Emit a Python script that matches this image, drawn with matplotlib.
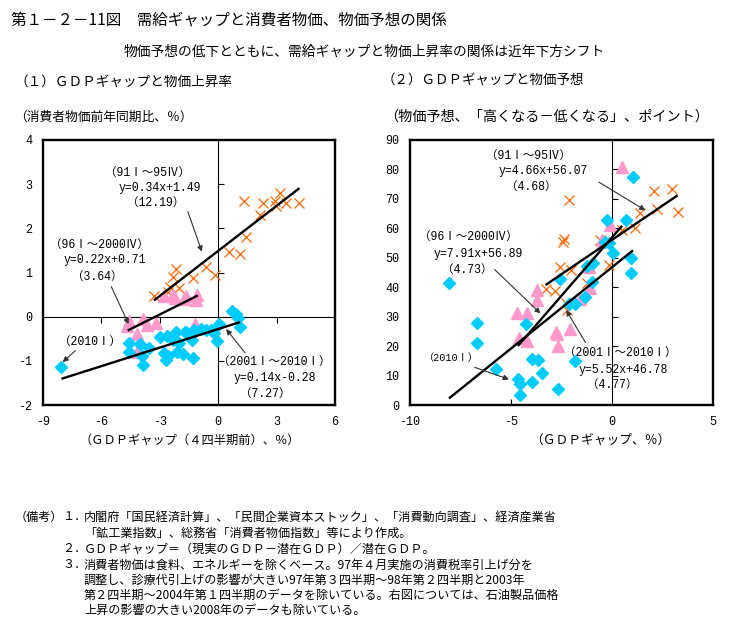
import matplotlib
matplotlib.use('Agg')
import matplotlib.pyplot as plt
import numpy as np

plt.rcParams['axes.unicode_minus'] = False
plt.rcParams['font.family'] = ['Noto Sans CJK JP', 'DejaVu Sans']

# ---------------- data: left panel (GDP gap 4Q earlier vs CPI) ----------------
l91_x = [-3.30, -2.48, -2.34, -2.18, -2.01, -2.60, -1.28, -0.65, -0.15, 0.57,
         1.12, 1.43, 1.34, 2.15, 2.28, 2.90, 2.95, 3.15, 3.48, 4.17]
l91_y = [0.46, 0.68, 0.89, 1.07, 0.64, 0.55, 0.87, 1.12, 0.94, 1.46,
         1.42, 1.81, 2.61, 2.30, 2.57, 2.61, 2.50, 2.81, 2.57, 2.57]

l96_x = [-4.70, -4.58, -3.85, -4.17, -3.67, -3.20, -2.77, -2.31, -2.22, -1.76,
         -1.65, -1.14, -1.10, -1.18, -4.19]
l96_y = [-0.20, -0.10, -0.05, -0.40, -0.19, -0.14, 0.47, 0.50, 0.43, 0.40,
         0.47, 0.38, 0.48, -0.16, -0.79]

l01_x = [-8.05, -4.56, -4.56, -4.03, -3.93, -3.84, -3.57, -3.01, -2.65, -2.56,
         -2.68, -2.78, -2.16, -2.10, -2.00, -1.83, -1.66, -1.36, -1.26, -1.27,
         -0.90, -0.36, -0.20, -0.04, 0.06, 0.70, 0.90, 1.02, 1.12, -1.71,
         -2.31, -0.63, -1.19]
l01_y = [-1.14, -0.60, -0.79, -0.61, -0.88, -1.09, -0.72, -0.47, -0.44, -0.88,
         -0.97, -0.83, -0.34, -0.79, -0.60, -0.85, -0.35, -0.53, -0.30, -0.94,
         -0.29, -0.30, -0.37, -0.54, -0.16, 0.12, 0.06, -0.02, -0.23, -0.34,
         -0.53, -0.30, -0.32]

# regression coefficients (slope, intercept) and x-range of each line
l_fits = [(0.34, 1.49, -3.30, 4.17), (0.22, 0.71, -4.65, -1.05), (0.14, -0.28, -8.05, 1.12)]

# ---------------- data: right panel (GDP gap vs price expectations) ----------------
r91_x = [-3.26, -2.80, -2.58, -2.02, -2.39, -2.43, -2.14, -2.27, -2.22, -1.26,
         -0.60, -0.13, 0.50, 1.13, 1.41, 2.10, 2.23, 2.97, 3.25]
r91_y = [39.3, 38.7, 46.9, 45.7, 56.5, 55.3, 69.7, 34.8, 32.2, 41.6,
         56.1, 47.7, 59.5, 60.2, 65.2, 72.6, 66.4, 73.4, 65.5]

r96_x = [0.50, -4.69, -4.20, -3.70, -3.70, -4.61, -4.20, -2.75, -2.68, -2.06,
         -1.56, -1.07, -1.12, -0.49, -0.08, -2.70]
r96_y = [80.7, 31.3, 31.2, 39.0, 35.6, 22.9, 21.8, 24.8, 20.0, 25.8,
         36.1, 39.8, 46.9, 56.1, 61.0, 24.2]

r01_x = [-8.07, -6.67, -6.67, -5.76, -4.66, -4.56, -4.56, -4.25, -3.98, -3.65,
         -3.98, -3.46, -2.67, -2.55, -2.14, -1.84, -1.84, -1.36, -1.23, -0.95,
         -0.98, -0.27, -0.16, 0.04, 0.71, 0.94, 0.94, 1.04, -0.35]
r01_y = [41.6, 27.7, 21.2, 12.1, 8.7, 7.0, 3.4, 27.4, 15.5, 15.2,
         7.7, 10.7, 5.4, 42.7, 34.4, 34.4, 14.9, 36.7, 47.1, 48.2,
         41.8, 62.7, 55.1, 51.6, 62.7, 49.9, 45.0, 77.4, 55.3]

r_fits = [(4.66, 56.07, -3.29, 3.25), (7.91, 56.89, -4.66, 0.50), (5.52, 46.78, -8.07, 1.04)]

l_xticks = [-9, -6, -3, 0, 3, 6]
l_yticks = [-2, -1, 0, 1, 2, 3, 4]
r_xticks = [-10, -5, 0, 5]
r_yticks = [0, 10, 20, 30, 40, 50, 60, 70, 80, 90]

C_X = '#FF6600'
C_TRI = '#FF99CC'
C_DIA = '#00CCFF'

W, H = 731, 623
fig = plt.figure(figsize=(W / 100, H / 100), dpi=100)

def fx(px):
    return px / W

def fy(py):
    return 1 - py / H

MONO = ['Liberation Mono', 'Noto Sans CJK JP']
ANN = 8.3

def style_axes(ax, xticks, yticks):
    for s in ax.spines.values():
        s.set_linewidth(1.7)
        s.set_color('black')
    ax.set_xticks(xticks)
    ax.set_yticks(yticks)
    ax.tick_params(length=0, pad=8, labelsize=8.5)
    for lab in ax.get_xticklabels() + ax.get_yticklabels():
        lab.set_fontfamily('Liberation Mono')

def scatter_sets(ax, sets):
    ax.plot(sets[0][0], sets[0][1], 'x', color=C_X, ms=6.5, mew=0.9, ls='none', zorder=3)
    ax.plot(sets[1][0], sets[1][1], '^', color=C_TRI, ms=8, mec=C_TRI, ls='none', zorder=3)
    ax.plot(sets[2][0], sets[2][1], 'D', color=C_DIA, ms=6, mec=C_DIA, ls='none', zorder=4)

def fit_lines(ax, fits):
    for a, b, x0, x1 in fits:
        xs = np.array([x0, x1])
        ax.plot(xs, a * xs + b, color='black', lw=1.7, zorder=5, solid_capstyle='butt')

def arrow(ax, xy_from, xy_to):
    ax.annotate('', xy=xy_to, xytext=xy_from,
                arrowprops=dict(arrowstyle='-|>', color='#333333', lw=0.8,
                                mutation_scale=8, shrinkA=0, shrinkB=0), zorder=6)

# ---------------- left panel ----------------
axL = fig.add_axes([fx(43), fy(405), fx(335) - fx(43), fy(140) - fy(405)])
axL.set_xlim(-9, 6)
axL.set_ylim(-2, 4)
style_axes(axL, l_xticks, l_yticks)
axL.axhline(0, color='black', lw=0.8, zorder=2)
axL.axvline(0, color='black', lw=0.8, zorder=2)
axL.plot([0, 0, 0, 0], [-1, 1, 2, 3], marker=1, ls='none', color='black', ms=4, mew=0.8, zorder=2)
axL.plot([-6, -3, 3], [0, 0, 0], marker=3, ls='none', color='black', ms=4, mew=0.8, zorder=2)
scatter_sets(axL, [(l91_x, l91_y), (l96_x, l96_y), (l01_x, l01_y)])
fit_lines(axL, l_fits)

axL.text(-5.84, 3.25, '（91Ⅰ～95Ⅳ）', family=MONO, fontsize=ANN, va='center', ha='left')
axL.text(-5.12, 2.91, 'y=0.34x+1.49', family=MONO, fontsize=ANN, va='center', ha='left')
axL.text(-4.69, 2.58, '（12.19）', family=MONO, fontsize=ANN, va='center', ha='left')
arrow(axL, (-1.56, 2.38), (-0.84, 1.47))

axL.text(-8.66, 1.62, '（96Ⅰ～2000Ⅳ）', family=MONO, fontsize=ANN, va='center', ha='left')
axL.text(-7.94, 1.28, 'y=0.22x+0.71', family=MONO, fontsize=ANN, va='center', ha='left')
axL.text(-7.51, 0.91, '（3.64）', family=MONO, fontsize=ANN, va='center', ha='left')
arrow(axL, (-5.49, 0.68), (-4.60, -0.17))

axL.text(-8.2, -0.57, '（2010Ⅰ）', family=MONO, fontsize=ANN, va='center', ha='left')
arrow(axL, (-7.34, -0.77), (-7.99, -1.03))

axL.text(0.0, -1.02, '（2001Ⅰ～2010Ⅰ）', family=MONO, fontsize=ANN, va='center', ha='left')
axL.text(0.78, -1.40, 'y=0.14x-0.28', family=MONO, fontsize=ANN, va='center', ha='left')
axL.text(1.12, -1.75, '（7.27）', family=MONO, fontsize=ANN, va='center', ha='left')
arrow(axL, (1.38, -0.82), (0.41, -0.28))

# ---------------- right panel ----------------
axR = fig.add_axes([fx(410), fy(405), fx(713) - fx(410), fy(140) - fy(405)])
axR.set_xlim(-10, 5)
axR.set_ylim(0, 90)
style_axes(axR, r_xticks, r_yticks)
axR.axvline(0, color='black', lw=0.8, zorder=2)
axR.plot([0] * 8, [10, 20, 30, 40, 50, 60, 70, 80], marker=1, ls='none', color='black', ms=4, mew=0.8, zorder=2)
axR.plot([-5], [0], marker=2, ls='none', color='black', ms=4, mew=0.8, zorder=2)
scatter_sets(axR, [(r91_x, r91_y), (r96_x, r96_y), (r01_x, r01_y)])
fit_lines(axR, r_fits)

axR.text(-6.26, 84.7, '（91Ⅰ～95Ⅳ）', family=MONO, fontsize=ANN, va='center', ha='left')
axR.text(-5.63, 79.6, 'y=4.66x+56.07', family=MONO, fontsize=ANN, va='center', ha='left')
axR.text(-5.24, 74.2, '（4.68）', family=MONO, fontsize=ANN, va='center', ha='left')
arrow(axR, (-0.65, 75.7), (1.65, 66.1))

axR.text(-9.55, 57.0, '（96Ⅰ～2000Ⅳ）', family=MONO, fontsize=ANN, va='center', ha='left')
axR.text(-8.85, 51.4, 'y=7.91x+56.89', family=MONO, fontsize=ANN, va='center', ha='left')
axR.text(-8.43, 46.0, '（4.73）', family=MONO, fontsize=ANN, va='center', ha='left')
arrow(axR, (-5.81, 46.0), (-3.54, 31.1))

axR.text(-9.31, 15.8, '（2010Ⅰ）', family=MONO, fontsize=7.3, va='center', ha='left')
arrow(axR, (-6.80, 12.8), (-5.10, 8.7))

axR.text(-2.38, 17.7, '（2001Ⅰ～2010Ⅰ）', family=MONO, fontsize=ANN, va='center', ha='left')
axR.text(-1.64, 12.0, 'y=5.52x+46.78', family=MONO, fontsize=ANN, va='center', ha='left')
axR.text(-1.26, 6.8, '（4.77）', family=MONO, fontsize=ANN, va='center', ha='left')
arrow(axR, (-1.31, 21.2), (-2.27, 32.2))

# ---------------- titles and labels ----------------
fig.text(fx(11), fy(20), '第１－２－11図　需給ギャップと消費者物価、物価予想の関係', fontsize=11.2, va='center', ha='left')
fig.text(fx(364), fy(52), '物価予想の低下とともに、需給ギャップと物価上昇率の関係は近年下方シフト', fontsize=9.9, va='center', ha='center')
fig.text(fx(14), fy(82), '（１）ＧＤＰギャップと物価上昇率', fontsize=9.8, va='center', ha='left')
fig.text(fx(382), fy(80), '（２）ＧＤＰギャップと物価予想', fontsize=9.7, va='center', ha='left')
fig.text(fx(14), fy(117), '（消費者物価前年同期比、％）', fontsize=9.2, va='center', ha='left')
fig.text(fx(384), fy(117), '（物価予想、「高くなる－低くなる」、ポイント）', fontsize=10.2, va='center', ha='left')
fig.text(fx(190), fy(440), '（ＧＤＰギャップ（４四半期前）、％）', fontsize=8.8, va='center', ha='center')
fig.text(fx(600), fy(440), '（ＧＤＰギャップ、％）', fontsize=9.2, va='center', ha='center')

# ---------------- notes ----------------
NF = 8.7
notes_y = [517, 533, 549, 565, 580, 595, 610]
fig.text(fx(15), fy(notes_y[0]), '（備考）', fontsize=NF, va='center', ha='left')
for i, num in [(0, '１．'), (2, '２．'), (3, '３．')]:
    fig.text(fx(62), fy(notes_y[i]), num, fontsize=NF, va='center', ha='left')
note_lines = [
    '内閣府「国民経済計算」、「民間企業資本ストック」、「消費動向調査」、経済産業省',
    '「鉱工業指数」、総務省「消費者物価指数」等により作成。',
    'ＧＤＰギャップ＝（現実のＧＤＰ－潜在ＧＤＰ）／潜在ＧＤＰ。',
    '消費者物価は食料、エネルギーを除くベース。97年４月実施の消費税率引上げ分を',
    '調整し、診療代引上げの影響が大きい97年第３四半期～98年第２四半期と2003年',
    '第２四半期～2004年第１四半期のデータを除いている。右図については、石油製品価格',
    '上昇の影響の大きい2008年のデータも除いている。',
]
for y, t in zip(notes_y, note_lines):
    fig.text(fx(84), fy(y), t, fontsize=NF, va='center', ha='left')

fig.savefig('out.png', dpi=100)
